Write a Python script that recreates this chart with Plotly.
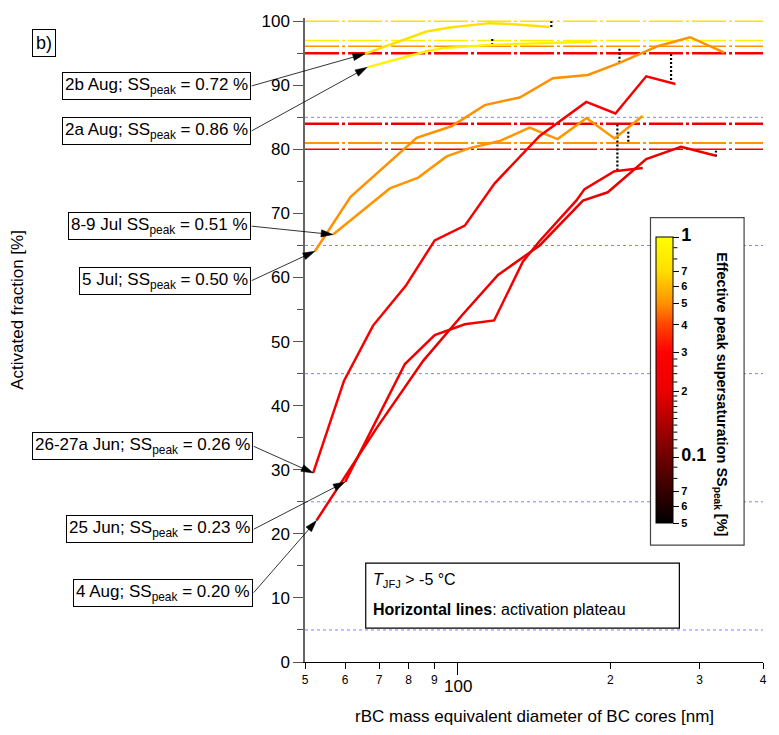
import numpy as np
import plotly.graph_objects as go

# ---------------- data ----------------
ss_2b_aug = 0.72
diam_2b_aug = [65.6, 86.8, 96.5, 115.6, 130.6, 151.8]
af_2b_aug = [94.9, 98.4, 99.0, 99.7, 99.5, 99.1]

ss_2a_aug = 0.86
diam_2a_aug = [66.3, 86.8, 93.6, 115.6, 151.8, 183.3]
af_2a_aug = [92.8, 95.3, 95.8, 96.3, 96.6, 96.8]

ss_5_jul = 0.50
diam_5_jul = [52.3, 61.5, 83.0, 97.2, 113.1, 132.5, 154.1, 180.6, 208.5, 228.3, 248.0, 287.2, 335.6]
af_5_jul = [64.1, 72.6, 81.8, 83.6, 86.9, 88.1, 91.1, 91.6, 93.5, 94.8, 96.1, 97.5, 95.1]

ss_8_9_jul = 0.51
diam_8_9_jul = [56.8, 73.5, 83.6, 95.1, 105.6, 121.0, 138.6, 157.4, 179.5, 203.8, 231.5]
af_8_9_jul = [66.7, 73.9, 75.6, 78.9, 80.2, 81.3, 83.4, 81.6, 84.9, 81.7, 85.2]

ss_26_27a_jun = 0.26
diam_26_27a_jun = [51.9, 59.7, 68.1, 79.0, 90.1, 103.3, 118.3, 145.1, 179.3, 204.7, 235.4, 268.8]
af_26_27a_jun = [29.5, 43.9, 52.5, 58.7, 65.8, 68.1, 74.7, 82.1, 87.4, 85.6, 91.4, 90.2]

ss_25_jun = 0.23
diam_25_jun = [60.0, 78.7, 90.1, 103.3, 118.0, 134.5, 145.1, 171.3, 177.9, 203.8, 231.7]
af_25_jun = [28.1, 46.5, 51.0, 52.7, 53.3, 62.5, 65.7, 72.0, 73.8, 76.6, 77.1]

ss_4_aug = 0.20
diam_4_aug = [52.7, 69.2, 85.5, 102.5, 120.1, 145.1, 176.6, 197.7, 235.4, 275.7, 323.2]
af_4_aug = [22.1, 36.5, 47.0, 54.3, 60.4, 65.0, 72.0, 73.3, 78.5, 80.4, 79.0]

labels = ["2b Aug; SS<sub>peak</sub> = 0.72 %", "2a Aug; SS<sub>peak</sub> = 0.86 %",
          "5 Jul; SS<sub>peak</sub> = 0.50 %", "8-9 Jul SS<sub>peak</sub> = 0.51 %",
          "26-27a Jun; SS<sub>peak</sub> = 0.26 %", "25 Jun; SS<sub>peak</sub> = 0.23 %",
          "4 Aug; SS<sub>peak</sub> = 0.20 %"]

# activation plateaus (value, SSpeak of the event)
plateau_af = [100.0, 97.0, 96.1, 95.0, 84.0, 81.0, 80.0]
plateau_ss = [0.72, 0.86, 0.50, 0.26, 0.20, 0.51, 0.23]

# dotted connectors (x, from, to)
dot_x = [153, 117, 208.5, 263.5, 206.5, 217, 323]
dot_y0 = [99.1, 96.3, 93.5, 90.2, 76.7, 81.2, 78.9]
dot_y1 = [100, 97.3, 96.0, 95.0, 84.0, 83.0, 79.8]

x_tickvals = [50, 60, 70, 80, 90, 200, 300, 400]
x_ticktext = ["5", "6", "7", "8", "9", "2", "3", "4"]

cb_major_vals = [0.05, 0.06, 0.07, 0.1, 0.2, 0.3, 0.4, 0.5, 0.6, 0.7, 1.0]
cb_major_text = ["5", "6", "7", "0.1", "2", "3", "4", "5", "6", "7", "1"]
cb_minor_vals = [0.08, 0.09, 0.11, 0.12, 0.13, 0.14, 0.15, 0.16, 0.17, 0.18, 0.19,
                 0.22, 0.24, 0.26, 0.28, 0.8, 0.9]

# ---------------- layout geometry ----------------
W, H = 779, 735
ML, MR, MT, MB = 305, 14, 17, 73
PW, PH = W - ML - MR, H - MT - MB
XMIN, XMAX = 50, 400
YMIN, YMAX = 0, 100.5
FONT = "Arial, Liberation Sans, sans-serif"


def px_x(d):
    return ML + PW * (np.log10(d) - np.log10(XMIN)) / (np.log10(XMAX) - np.log10(XMIN))


def px_y(v):
    return MT + PH * (YMAX - v) / (YMAX - YMIN)


def pap_x(px):
    return (px - ML) / PW


def pap_y(py):
    return (H - MB - py) / PH


SSMIN, SSMAX = 0.05, 1.0
cstops = [(0.0, (0, 0, 0)), (0.2314, (110, 0, 0)), (0.4628, (235, 0, 0)), (0.5983, (255, 0, 0)),
          (0.6944, (255, 70, 0)), (0.7686, (255, 145, 0)), (0.8811, (255, 222, 0)), (1.0, (255, 255, 0))]
colorscale = [[t, "rgb(%d,%d,%d)" % c] for t, c in cstops]


def ss_t(ss):
    return (np.log10(ss) - np.log10(SSMIN)) / (np.log10(SSMAX) - np.log10(SSMIN))


def ss_color(ss):
    t = ss_t(ss)
    for (t0, c0), (t1, c1) in zip(cstops[:-1], cstops[1:]):
        if t0 <= t <= t1:
            f = (t - t0) / (t1 - t0)
            c = [round(a + (b - a) * f) for a, b in zip(c0, c1)]
            return "rgb(%d,%d,%d)" % tuple(c)
    return "rgb(255,255,0)"


fig = go.Figure()

# plateau lines
pl_widths = [1.5, 1.5, 1.5, 2.5, 2.5, 2, 1.5]
for v, s, w in zip(plateau_af, plateau_ss, pl_widths):
    fig.add_trace(go.Scatter(x=[XMIN, XMAX], y=[v, v], mode="lines",
                             line=dict(color=ss_color(s), width=w, dash="34px,3px,3px,3px"),
                             showlegend=False, hoverinfo="skip"))

# dotted connectors
for x, a, b in zip(dot_x, dot_y0, dot_y1):
    fig.add_trace(go.Scatter(x=[x, x], y=[a, b], mode="lines",
                             line=dict(color="black", width=2.2, dash="2px,2px"),
                             showlegend=False, hoverinfo="skip"))

series = [(diam_2b_aug, af_2b_aug, ss_2b_aug), (diam_2a_aug, af_2a_aug, ss_2a_aug),
          (diam_5_jul, af_5_jul, ss_5_jul), (diam_8_9_jul, af_8_9_jul, ss_8_9_jul),
          (diam_26_27a_jun, af_26_27a_jun, ss_26_27a_jun), (diam_25_jun, af_25_jun, ss_25_jun),
          (diam_4_aug, af_4_aug, ss_4_aug)]
for d, v, s in series:
    fig.add_trace(go.Scatter(x=d, y=v, mode="lines", line=dict(color=ss_color(s), width=2.5),
                             showlegend=False))

# colorbar carrier
big = '<span style="font-size:18px">%s</span>'
cb_text = [big % t if t in ("1", "0.1") else t for t in cb_major_text]

bar_top, bar_bot = 237, 523
bar_left, bar_w = 658, 17
fig.add_trace(go.Scatter(
    x=[60, 60], y=[-50, -50], mode="markers", showlegend=False, hoverinfo="skip",
    marker=dict(color=[np.log10(SSMIN), np.log10(SSMAX)], colorscale=colorscale,
                cmin=np.log10(SSMIN), cmax=np.log10(SSMAX), showscale=True,
                colorbar=dict(x=pap_x(bar_left), xanchor="left", y=pap_y((bar_top + bar_bot) / 2),
                              yanchor="middle", len=bar_bot - bar_top, lenmode="pixels",
                              thickness=bar_w, thicknessmode="pixels", xpad=0, ypad=0,
                              outlinewidth=1, outlinecolor="black",
                              tickmode="array", tickvals=[np.log10(v) for v in cb_major_vals],
                              ticktext=cb_text, ticks="outside", ticklen=6, tickcolor="black",
                              tickfont=dict(family=FONT, size=11, color="black", weight="bold")))))

shapes = []
# faint dotted grid lines
for gv in [5, 25, 45, 65, 85]:
    shapes.append(dict(type="line", xref="paper", yref="y", x0=0, x1=1, y0=gv, y1=gv,
                       line=dict(color="rgb(130,130,250)", width=1, dash="dot"), layer="below"))
shapes.append(dict(type="line", xref="x", yref="paper", x0=np.log10(70), x1=np.log10(70), y0=0, y1=1,
                   line=dict(color="rgb(215,215,250)", width=1, dash="dot"), layer="below"))
# colorbar box
shapes.append(dict(type="rect", xref="paper", yref="paper", x0=pap_x(652), x1=pap_x(746),
                   y0=pap_y(545), y1=pap_y(217), line=dict(color="#444", width=1.2),
                   fillcolor="white", layer="below"))
# colorbar minor ticks
for mv in cb_minor_vals:
    py = bar_bot - (bar_bot - bar_top) * ss_t(mv)
    shapes.append(dict(type="line", xref="paper", yref="paper",
                       x0=pap_x(bar_left + bar_w), x1=pap_x(bar_left + bar_w + 4),
                       y0=pap_y(py), y1=pap_y(py), line=dict(color="black", width=1),
                       layer="above"))
# note box
shapes.append(dict(type="rect", xref="paper", yref="paper", x0=pap_x(366), x1=pap_x(681),
                   y0=pap_y(628), y1=pap_y(563), line=dict(color="black", width=1.2),
                   fillcolor="white", layer="above"))

annotations = []
# label boxes and arrows (arrows drawn as shapes)
heads = [(d[0], v[0]) for d, v, s in series]
box_cy = [85, 130, 280, 225.5, 446, 529, 592.5]
box_right = [251, 251, 251, 251, 253, 253, 253]
HEAD_LEN, HEAD_HW = 12, 3.6
for lab, (hx, hy), cy, rx in zip(labels, heads, box_cy, box_right):
    annotations.append(dict(text=lab, xref="paper", yref="paper", x=pap_x(rx), y=pap_y(cy),
                            xanchor="right", yanchor="middle", showarrow=False,
                            font=dict(family=FONT, size=17, color="black"),
                            bordercolor="black", borderwidth=1, borderpad=2, bgcolor="white"))
    tx, ty = rx + 0.5, cy
    hxp, hyp = px_x(hx), px_y(hy)
    L = np.hypot(hxp - tx, hyp - ty)
    ux, uy = (hxp - tx) / L, (hyp - ty) / L
    bx, by = hxp - ux * HEAD_LEN, hyp - uy * HEAD_LEN
    shapes.append(dict(type="line", xref="paper", yref="paper", x0=pap_x(tx), y0=pap_y(ty),
                       x1=pap_x(bx + ux * 2), y1=pap_y(by + uy * 2),
                       line=dict(color="black", width=0.8), layer="above"))
    p1 = (bx - uy * HEAD_HW, by + ux * HEAD_HW)
    p2 = (bx + uy * HEAD_HW, by - ux * HEAD_HW)
    path = "M %f %f L %f %f L %f %f Z" % (pap_x(hxp), pap_y(hyp), pap_x(p1[0]), pap_y(p1[1]),
                                        pap_x(p2[0]), pap_y(p2[1]))
    shapes.append(dict(type="path", xref="paper", yref="paper", path=path, fillcolor="black",
                       line=dict(color="black", width=0.5), layer="above"))

annotations += [
    dict(text="b)", xref="paper", yref="paper", x=pap_x(30.5), y=pap_y(28.5), showarrow=False,
         font=dict(family=FONT, size=18, color="black"), bordercolor="black", borderwidth=1,
         borderpad=3, bgcolor="white"),
    dict(text="100", xref="x", yref="paper", x=np.log10(100), y=pap_y(687), showarrow=False,
         yanchor="middle", font=dict(family=FONT, size=17, color="black")),
    dict(text="rBC mass equivalent diameter of BC cores [nm]", xref="paper", yref="paper",
         x=0.5, y=pap_y(717), showarrow=False, yanchor="middle",
         font=dict(family=FONT, size=17, color="black")),
    dict(text="Activated fraction [%]", xref="paper", yref="paper", x=pap_x(16), y=pap_y(309),
         showarrow=False, textangle=-90, xanchor="center", yanchor="middle",
         font=dict(family=FONT, size=17, color="black")),
    dict(text="<b>Effective peak supersaturation SS<sub>peak</sub> [%]</b>", xref="paper",
         yref="paper", x=pap_x(722), y=pap_y(394), showarrow=False, textangle=90,
         xanchor="center", yanchor="middle", font=dict(family=FONT, size=14.5, color="black")),
    dict(text="<i>T</i><sub>JFJ</sub> > -5 °C", xref="paper", yref="paper", x=pap_x(371),
         y=pap_y(580), xanchor="left", yanchor="middle", showarrow=False,
         font=dict(family=FONT, size=16, color="black")),
    dict(text="<b>Horizontal lines</b>: activation plateau", xref="paper", yref="paper",
         x=pap_x(371), y=pap_y(609), xanchor="left", yanchor="middle", showarrow=False,
         font=dict(family=FONT, size=16, color="black")),
]

fig.update_layout(
    width=W, height=H, autosize=False,
    margin=dict(l=ML, r=MR, t=MT, b=MB, pad=0),
    paper_bgcolor="white", plot_bgcolor="white",
    font=dict(family=FONT, color="black"),
    showlegend=False,
    shapes=shapes, annotations=annotations,
    xaxis=dict(type="log", range=[np.log10(XMIN), np.log10(XMAX)], tickmode="array",
               tickvals=x_tickvals, ticktext=x_ticktext, ticks="outside", ticklen=6,
               tickcolor="black", tickfont=dict(family=FONT, size=12, color="black"),
               showline=True, linecolor="black", linewidth=1.2, showgrid=False, zeroline=False,
               minor=dict(tickmode="array", tickvals=[100], ticks="outside", ticklen=12,
                          tickcolor="black", tickwidth=1.2, showgrid=False)),
    yaxis=dict(range=[YMIN, YMAX], tickmode="array", tickvals=list(range(0, 101, 10)),
               ticks="outside", ticklen=10, tickcolor="#555", tickwidth=1.2,
               tickfont=dict(family=FONT, size=17, color="black"),
               showline=True, linecolor="#666", linewidth=1.5, showgrid=False, zeroline=False,
               minor=dict(tickmode="array", tickvals=list(range(5, 100, 10)), ticks="outside",
                          ticklen=6, tickcolor="#555", tickwidth=1.2, showgrid=False)),
)

fig.write_html("out.html")
